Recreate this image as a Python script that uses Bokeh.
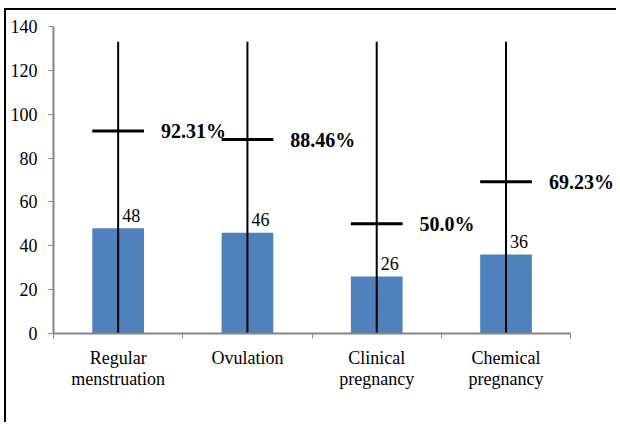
from bokeh.plotting import figure
from bokeh.models import Range1d, FixedTicker
from bokeh.core.properties import value
from bokeh.embed import file_html
from bokeh.resources import INLINE

categories = ["Regular\nmenstruation", "Ovulation", "Clinical\npregnancy", "Chemical\npregnancy"]
counts = [48, 46, 26, 36]
rates = [92.31, 88.46, 50.0, 69.23]
rate_labels = ["92.31%", "88.46%", "50.0%", "69.23%"]
line_tops = [133, 133, 133, 133]
y_ticks = [0, 20, 40, 60, 80, 100, 120, 140]

FONT = "Liberation Serif"
n = len(categories)
xs = [i + 0.5 for i in range(n)]
zeros = [0] * n

p = figure(width=612, height=414, output_backend="svg", toolbar_location=None,
           x_range=Range1d(0, n + 0.37), y_range=Range1d(0, 140),
           min_border_left=47, min_border_top=16, min_border_right=0, min_border_bottom=91)
p.styles = {"border-top": "2px solid black", "border-left": "2px solid black",
            "margin-left": "4px", "margin-top": "8px"}
p.outline_line_color = None
p.xgrid.visible = False
p.ygrid.visible = False
p.background_fill_color = "white"
p.border_fill_color = "white"

p.vbar(x=xs, top=counts, width=0.4, fill_color="#4F81BD", line_color=None)
p.segment(x0=xs, y0=zeros, x1=xs, y1=line_tops, line_color="black", line_width=2)
p.segment(x0=[x - 0.2 for x in xs], y0=rates, x1=[x + 0.2 for x in xs], y1=rates,
          line_color="black", line_width=3)

p.text(x=[x + 0.2 for x in xs], y=rates, text=rate_labels, x_offset=17,
       text_font=value(FONT), text_font_size="20px", text_font_style="bold",
       text_baseline="middle", text_align="left", text_color="black")
p.text(x=xs, y=counts, text=[str(c) for c in counts], x_offset=4, y_offset=-13,
       text_font=value(FONT), text_font_size="18px",
       text_baseline="alphabetic", text_align="left", text_color="black")

ax = p.xaxis[0]
ax.bounds = (0, n)
ax.ticker = FixedTicker(ticks=xs, minor_ticks=list(range(n + 1)))
ax.major_label_overrides = {x: c for x, c in zip(xs, categories)}
ax.major_tick_out = 0
ax.major_tick_in = 0
ax.minor_tick_out = 5
ax.minor_tick_in = 0
ax.minor_tick_line_color = "#868686"
ax.axis_line_color = "#868686"
ax.axis_line_width = 2
ax.major_label_text_font = FONT
ax.major_label_text_font_size = "18px"
ax.major_label_text_color = "black"
ax.major_label_text_line_height = 1.05
ax.major_label_standoff = 9

ay = p.yaxis[0]
ay.ticker = FixedTicker(ticks=y_ticks)
ay.major_tick_out = 5
ay.major_tick_in = 0
ay.minor_tick_out = 0
ay.minor_tick_in = 0
ay.major_tick_line_color = "#868686"
ay.axis_line_color = "#868686"
ay.axis_line_width = 2
ay.major_label_text_font = FONT
ay.major_label_text_font_size = "18px"
ay.major_label_text_color = "black"
ay.major_label_standoff = 11

open("out.html", "w").write(file_html(p, INLINE))
